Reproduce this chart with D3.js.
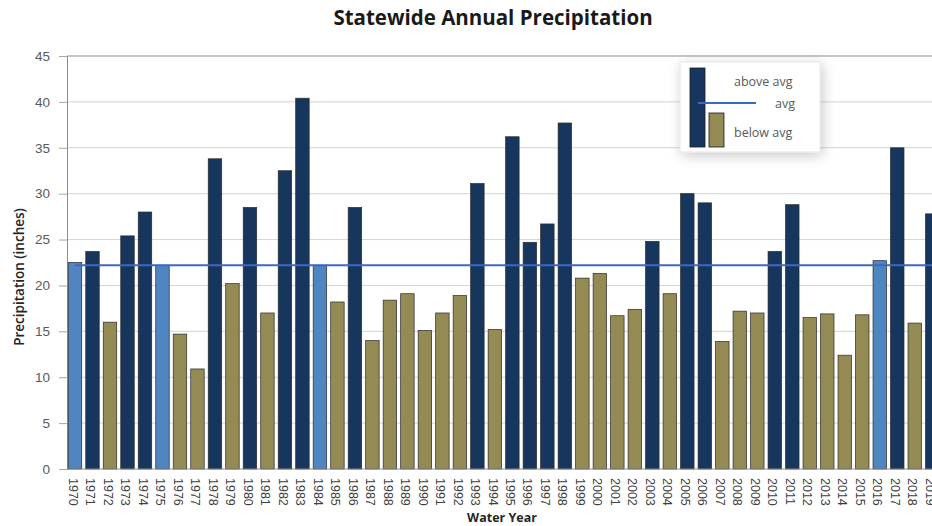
<!DOCTYPE html>
<html>
<head>
<meta charset="utf-8">
<script src="https://cdn.jsdelivr.net/npm/d3@7"></script>
<style>
  html, body { margin: 0; padding: 0; background: #fff; overflow: hidden; }
  svg { display: block; font-family: "Open Sans", "Lato", sans-serif; }
</style>
</head>
<body>
<svg id="chart" width="932" height="526"></svg>
<script>
// ---- data ----
const years = d3.range(1970, 2020).map(String);
const precip = [
  22.5, 23.7, 16.0, 25.4, 28.0, 22.2, 14.7, 10.9, 33.8, 20.2,
  28.5, 17.0, 32.5, 40.4, 22.2, 18.2, 28.5, 14.0, 18.4, 19.1,
  15.1, 17.0, 18.9, 31.1, 15.2, 36.2, 24.7, 26.7, 37.7, 20.8,
  21.3, 16.7, 17.4, 24.8, 19.1, 30.0, 29.0, 13.9, 17.2, 17.0,
  23.7, 28.8, 16.5, 16.9, 12.4, 16.8, 22.7, 35.0, 15.9, 27.8
];
const average = 22.2;
const nearAvgYears = ["1970", "1975", "1984", "2016"];
const yTicks = [0, 5, 10, 15, 20, 25, 30, 35, 40, 45];
const legendLabels = ["above avg", "avg", "below avg"];
const title = "Statewide Annual Precipitation";
const yTitle = "Precipitation (inches)";
const xTitle = "Water Year";

(function () {
const data = years.map((yr, i) => ({ year: yr, value: precip[i] }));

// ---- styles ----
const colAbove = "#17365d";
const colBelow = "#948b54";
const colNear = "#4f86c0";
const colAvg = "#3d68c2";

const svg = d3.select("#chart");
const W = 932, H = 526;
const pLeft = 67, pTop = 56, pBottom = 469, pRight = 941;

const x = d3.scaleBand().domain(years).range([66.25, pRight]).paddingInner(0.23).paddingOuter(0.115);
const y = d3.scaleLinear().domain([0, 45]).range([pBottom, pTop]);

// defs
const defs = svg.append("defs");
const f = defs.append("filter").attr("id", "shadow").attr("x", "-30%").attr("y", "-30%").attr("width", "160%").attr("height", "160%");
f.append("feGaussianBlur").attr("in", "SourceAlpha").attr("stdDeviation", 7).attr("result", "b");
f.append("feOffset").attr("in", "b").attr("dx", 2).attr("dy", 3).attr("result", "o");
f.append("feComponentTransfer").attr("in", "o").attr("result", "o2")
  .append("feFuncA").attr("type", "linear").attr("slope", 0.22);
const m = f.append("feMerge");
m.append("feMergeNode").attr("in", "o2");
m.append("feMergeNode").attr("in", "SourceGraphic");

// gridlines
svg.append("g").selectAll("line").data(yTicks.filter(d => d > 0)).join("line")
  .attr("x1", pLeft).attr("x2", W)
  .attr("y1", d => y(d)).attr("y2", d => y(d))
  .attr("stroke", d => d === 45 ? "#8c8c8c" : "#d4d4d4").attr("stroke-width", 1);

// y axis
const yAxis = d3.axisLeft(y).tickValues(yTicks).tickSize(8).tickPadding(9).tickFormat(d3.format("d"));
const gy = svg.append("g").attr("transform", `translate(${pLeft},0)`).call(yAxis);
gy.select(".domain").attr("stroke", "#8c8c8c");
gy.selectAll(".tick line").attr("stroke", "#a6a6a6");
gy.selectAll(".tick text").attr("fill", "#595959").style("font-size", "13.5px");

// bars
svg.append("g").selectAll("rect").data(data).join("rect")
  .attr("x", d => x(d.year))
  .attr("width", x.bandwidth())
  .attr("y", d => y(d.value))
  .attr("height", d => y(0) - y(d.value))
  .attr("fill", d => nearAvgYears.includes(d.year) ? colNear : (d.value > average ? colAbove : colBelow))
  .attr("stroke", "#2a2a2a").attr("stroke-width", 0.7);

// avg line
const firstC = x(years[0]) + x.bandwidth() / 2;
const lastC = x(years[years.length - 1]) + x.bandwidth() / 2;
svg.append("line")
  .attr("x1", firstC).attr("x2", lastC)
  .attr("y1", y(average)).attr("y2", y(average))
  .attr("stroke", colAvg).attr("stroke-width", 2.2);

// x axis
const xAxis = d3.axisBottom(x).tickSize(0).tickPadding(0);
const gx = svg.append("g").attr("transform", `translate(0,${pBottom})`).call(xAxis);
gx.select(".domain").remove();
gx.selectAll(".tick text")
  .attr("fill", "#404040").style("font-size", "12.5px")
  .attr("text-anchor", "start")
  .attr("transform", "translate(-2,9) rotate(90)")
  .attr("dy", "0.35em").attr("y", 0).attr("x", 0);
svg.append("line").attr("x1", pLeft).attr("x2", W).attr("y1", pBottom).attr("y2", pBottom).attr("stroke", "#8c8c8c");

// titles
svg.append("text").attr("x", 493).attr("y", 25).attr("text-anchor", "middle")
  .style("font-size", "20.5px").style("font-weight", "bold").attr("fill", "#1a1a1a").text(title);
svg.append("text").attr("transform", "translate(24,277) rotate(-90)").attr("text-anchor", "middle")
  .style("font-size", "13.5px").style("font-weight", "600").attr("fill", "#262626").text(yTitle);
svg.append("text").attr("x", 502).attr("y", 522).attr("text-anchor", "middle")
  .style("font-size", "12.5px").style("font-weight", "bold").attr("fill", "#262626").text(xTitle);

// legend
const lg = svg.append("g");
lg.append("rect").attr("x", 680).attr("y", 62).attr("width", 140).attr("height", 90)
  .attr("fill", "#fff").attr("stroke", "#e6e6e6").attr("filter", "url(#shadow)");
lg.append("rect").attr("x", 690).attr("y", 68).attr("width", 15).attr("height", 79)
  .attr("fill", colAbove).attr("stroke", "#1a1a1a").attr("stroke-width", 0.8);
lg.append("rect").attr("x", 709).attr("y", 113).attr("width", 15).attr("height", 34)
  .attr("fill", colBelow).attr("stroke", "#1a1a1a").attr("stroke-width", 0.8);
lg.append("line").attr("x1", 698).attr("x2", 756).attr("y1", 103).attr("y2", 103)
  .attr("stroke", colAvg).attr("stroke-width", 1.8);
const legPos = [[734, 86], [775, 108], [734, 137]];
lg.selectAll("text").data(legendLabels).join("text")
  .attr("x", (d, i) => legPos[i][0]).attr("y", (d, i) => legPos[i][1])
  .style("font-size", "12.5px").attr("fill", "#595959").text(d => d);
})();
</script>
</body>
</html>
